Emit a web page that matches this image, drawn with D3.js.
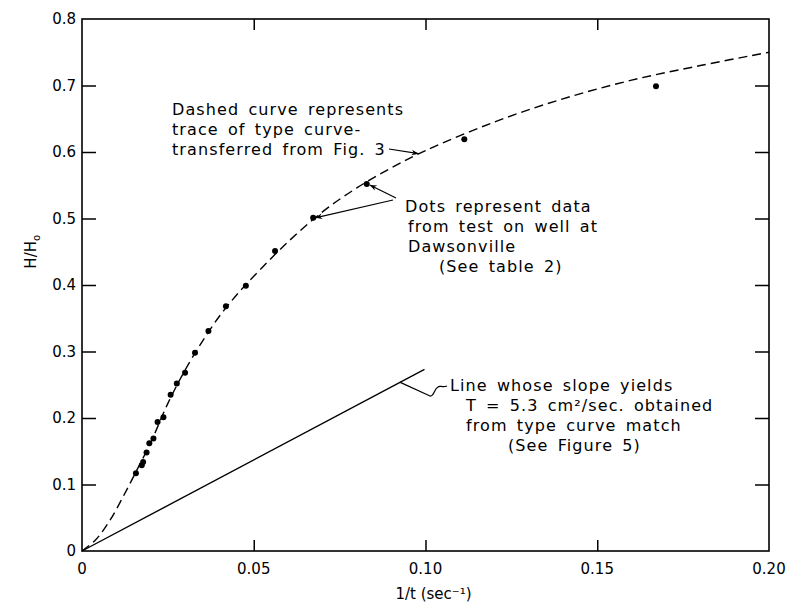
<!DOCTYPE html>
<html>
<head>
<meta charset="utf-8">
<script src="https://cdn.jsdelivr.net/npm/d3@7"></script>
<style>
  body { margin: 0; background: #fff; }
  text { font-family: "DejaVu Sans", sans-serif; fill: #000; }
</style>
</head>
<body>
<div id="plot"></div>
<script>
// data: 1/t (sec^-1) vs H/Ho
let dotX = [0.0157, 0.0174, 0.0178, 0.0188, 0.0196, 0.0208, 0.0220, 0.0237, 0.0258, 0.0276,
            0.0300, 0.0329, 0.0368, 0.0419, 0.0477, 0.0562, 0.0673, 0.0829, 0.1113, 0.1671];
let dotY = [0.117, 0.129, 0.134, 0.148, 0.162, 0.169, 0.194, 0.201, 0.235, 0.252,
            0.268, 0.298, 0.331, 0.368, 0.399, 0.451, 0.501, 0.552, 0.619, 0.699];

// trace of type curve (dashed)
let curveX = [0, 0.004, 0.008, 0.012, 0.016, 0.020, 0.025, 0.030, 0.035, 0.040, 0.045, 0.050,
              0.060, 0.070, 0.080, 0.090, 0.100, 0.120, 0.140, 0.160, 0.180, 0.200];
let curveY = [0, 0.017, 0.045, 0.082, 0.122, 0.163, 0.222, 0.272, 0.315, 0.353, 0.385, 0.413,
              0.465, 0.510, 0.546, 0.576, 0.602, 0.645, 0.680, 0.708, 0.730, 0.750];

// straight line through origin
let lineX = [0, 0.0997];
let lineY = [0, 0.273];

let xTicks = [0, 0.05, 0.10, 0.15, 0.20];
let xTickLabels = ["0", "0.05", "0.10", "0.15", "0.20"];
let yTicks = [0, 0.1, 0.2, 0.3, 0.4, 0.5, 0.6, 0.7, 0.8];
let yTickLabels = ["0", "0.1", "0.2", "0.3", "0.4", "0.5", "0.6", "0.7", "0.8"];

let margin = {top: 19, right: 20, bottom: 54, left: 82};
let width = 789 - margin.left - margin.right;
let height = 605 - margin.top - margin.bottom;

let svg = d3.select("#plot").append("svg")
  .attr("width", 789).attr("height", 605)
  .append("g")
  .attr("transform", "translate(" + margin.left + "," + margin.top + ")");

let x = d3.scaleLinear().domain([0, 0.2]).range([0, width]);
let y = d3.scaleLinear().domain([0, 0.8]).range([height, 0]);

// arrow head
svg.append("defs").append("marker")
  .attr("id", "arrow").attr("viewBox", "0 0 10 10")
  .attr("refX", 10).attr("refY", 5)
  .attr("markerWidth", 9).attr("markerHeight", 7)
  .attr("markerUnits", "userSpaceOnUse")
  .attr("orient", "auto")
  .append("path").attr("d", "M0,1 L10,5 L0,9 L3,5 Z").attr("fill", "#000");

// frame ticks, all pointing inward
svg.append("g").attr("transform", "translate(0," + height + ")")
  .call(d3.axisTop(x).tickValues(xTicks.slice(1, -1)).tickSize(11).tickFormat(""))
  .call(g => g.select(".domain").remove());
svg.append("g")
  .call(d3.axisBottom(x).tickValues(xTicks.slice(1, -1)).tickSize(11).tickFormat(""))
  .call(g => g.select(".domain").remove());
svg.append("g")
  .call(d3.axisRight(y).tickValues(yTicks.slice(1, -1)).tickSize(14).tickFormat(""))
  .call(g => g.select(".domain").remove());
svg.append("g").attr("transform", "translate(" + width + ",0)")
  .call(d3.axisLeft(y).tickValues(yTicks.slice(1, -1)).tickSize(14).tickFormat(""))
  .call(g => g.select(".domain").remove());
svg.selectAll(".tick line").attr("stroke", "#000").attr("stroke-width", 1.5);

svg.append("rect")
  .attr("x", 0).attr("y", 0).attr("width", width).attr("height", height)
  .attr("fill", "none").attr("stroke", "#000").attr("stroke-width", 1.6);

// tick labels
svg.selectAll(".xlab").data(xTicks).enter().append("text")
  .attr("x", d => x(d)).attr("y", height + 23)
  .attr("text-anchor", "middle").style("font-size", "15px")
  .text((d, i) => xTickLabels[i]);
svg.selectAll(".ylab").data(yTicks).enter().append("text")
  .attr("x", -6).attr("y", d => y(d) + 5)
  .attr("text-anchor", "end").style("font-size", "15px")
  .text((d, i) => yTickLabels[i]);

// axis titles
svg.append("text")
  .attr("x", x(0.1) + 8).attr("y", height + 48)
  .attr("text-anchor", "middle").style("font-size", "15px")
  .text("1/t (sec⁻¹)");
let yl = svg.append("text")
  .attr("text-anchor", "middle").style("font-size", "15px")
  .attr("transform", "translate(-46," + y(0.45) + ")rotate(-90)");
yl.append("tspan").text("H/H");
yl.append("tspan").attr("dy", 4).style("font-size", "10px").text("o");

// dashed type curve
let curveData = curveX.map((d, i) => [d, curveY[i]]);
svg.append("path").datum(curveData)
  .attr("fill", "none").attr("stroke", "#000").attr("stroke-width", 1.4)
  .style("stroke-dasharray", "9,5")
  .attr("d", d3.line().curve(d3.curveCatmullRom)
    .x(d => x(d[0])).y(d => y(d[1])));

// solid line
let lineData = lineX.map((d, i) => [d, lineY[i]]);
svg.append("path").datum(lineData)
  .attr("fill", "none").attr("stroke", "#000").attr("stroke-width", 1.4)
  .attr("d", d3.line().x(d => x(d[0])).y(d => y(d[1])));

// data dots
svg.append("g").selectAll("circle")
  .data(dotX.map((d, i) => [d, dotY[i]]))
  .enter().append("circle")
  .attr("cx", d => x(d[0])).attr("cy", d => y(d[1]))
  .attr("r", 3).attr("fill", "#000");

// annotations
let ann = svg.append("g").style("font-size", "16px")
  .style("letter-spacing", "1.1px").style("word-spacing", "3px");
function block(x0, y0, lines, dx) {
  lines.forEach((t, i) => {
    ann.append("text").attr("x", x0 + (dx ? dx[i] : 0)).attr("y", y0 + i * 20).text(t);
  });
}
block(90, 96, ["Dashed curve represents", "trace of type curve-", "transferred from Fig. 3"]);
block(323, 193, ["Dots represent data", "from test on well at", "Dawsonville", "(See table 2)"], [0, 3, 3, 34]);
block(368, 372, ["Line whose slope yields", "T = 5.3 cm²/sec. obtained", "from type curve match", "(See Figure 5)"], [0, 16, 16, 58]);

// leaders
svg.append("line")
  .attr("x1", 307).attr("y1", 130).attr("x2", x(0.098)).attr("y2", y(0.599) + 1)
  .attr("stroke", "#000").attr("stroke-width", 1.2).attr("marker-end", "url(#arrow)");
svg.append("line")
  .attr("x1", 314).attr("y1", 179).attr("x2", x(dotX[17]) + 3).attr("y2", y(dotY[17]) + 1)
  .attr("stroke", "#000").attr("stroke-width", 1.2).attr("marker-end", "url(#arrow)");
svg.append("line")
  .attr("x1", 311).attr("y1", 181).attr("x2", x(dotX[16]) + 2).attr("y2", y(dotY[16]))
  .attr("stroke", "#000").attr("stroke-width", 1.2).attr("marker-end", "url(#arrow)");
svg.append("path")
  .attr("d", "M" + (x(0.0925)) + "," + (y(0.254)) + " L348,377 C352,378 352,370 356,368 C358,366 360,369 365,367")
  .attr("fill", "none").attr("stroke", "#000").attr("stroke-width", 1.2);
</script>
</body>
</html>
